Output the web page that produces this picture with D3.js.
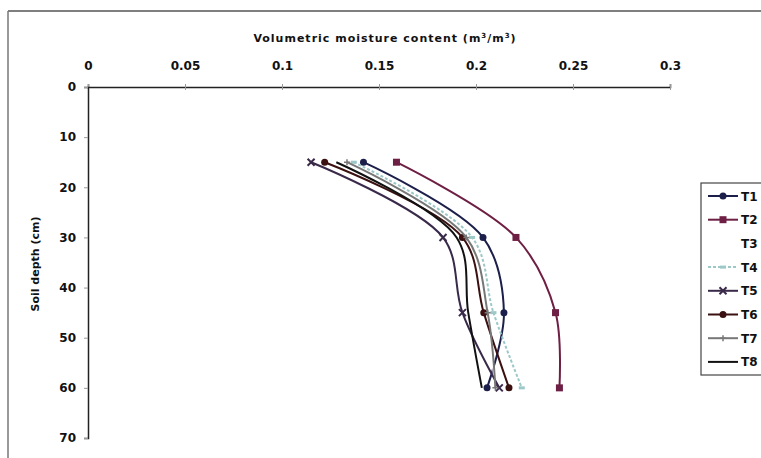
<!DOCTYPE html>
<html>
<head>
<meta charset="utf-8">
<script src="https://cdn.jsdelivr.net/npm/d3@7"></script>
<style>
  body { margin: 0; background: #fff; }
  text { font-family: "DejaVu Sans", Arial, sans-serif; font-weight: bold; fill: #111; }
</style>
</head>
<body>
<div id="chart"></div>
<script>
// depths (cm) at which moisture was measured
const depths = [15, 30, 45, 60];

const seriesNames = ['T1', 'T2', 'T3', 'T4', 'T5', 'T6', 'T7', 'T8'];

// volumetric moisture content per treatment (m3/m3), one value per depth
const t1 = [0.142, 0.2036, 0.2144, 0.2057];
const t2 = [0.159, 0.2206, 0.241, 0.243];
const t3 = [0.135, 0.197, 0.205, 0.210];
const t4 = [0.137, 0.198, 0.209, 0.2236];
const t5 = [0.115, 0.183, 0.193, 0.212];
const t6 = [0.122, 0.193, 0.204, 0.217];
const t7 = [0.1335, 0.195, 0.206, 0.210];
const t8 = [0.128, 0.190, 0.196, 0.203];

const xTicks = [0, 0.05, 0.1, 0.15, 0.2, 0.25, 0.3];
const yTicks = [0, 10, 20, 30, 40, 50, 60, 70];

const values = [t1, t2, t3, t4, t5, t6, t7, t8];
const colors = ['#1c1f4a', '#6e1f44', '#ffffff', '#9cc8c8', '#3a2a4a', '#3a1010', '#777777', '#111111'];
const markers = ['circle', 'square', 'none', 'dash', 'cross', 'circle', 'plus', 'none'];
const dashes = [null, null, null, '3,2', null, null, null, null];

const W = 761, H = 458;
const svg = d3.select('#chart').append('svg')
  .attr('width', W)
  .attr('height', H);

// scanned frame
svg.append('line').attr('x1', 8).attr('y1', 11).attr('x2', W).attr('y2', 11)
  .attr('stroke', '#555').attr('stroke-width', 1.5);
svg.append('line').attr('x1', 8).attr('y1', 11).attr('x2', 8).attr('y2', H)
  .attr('stroke', '#777').attr('stroke-width', 1.5);

const x = d3.scaleLinear().domain([0, 0.3]).range([88, 670]);
const y = d3.scaleLinear().domain([0, 70]).range([87, 438]);

// X axis on top
const xAxis = svg.append('g')
  .attr('transform', `translate(0,${y(0)})`)
  .call(d3.axisTop(x).tickValues(xTicks).tickSize(3).tickPadding(14)
    .tickFormat(d => d === 0 ? '0' : String(+d.toFixed(2))));
xAxis.select('.domain').attr('stroke', '#222').attr('stroke-width', 1.5);
xAxis.selectAll('.tick line').attr('stroke', '#999').attr('y2', 3).attr('y1', -3);
xAxis.selectAll('.tick text').style('font-size', '12px');

// Y axis
const yAxis = svg.append('g')
  .attr('transform', `translate(${x(0)},0)`)
  .call(d3.axisLeft(y).tickValues(yTicks).tickSize(4).tickPadding(8));
yAxis.select('.domain').attr('stroke', '#222').attr('stroke-width', 1.5);
yAxis.selectAll('.tick line').attr('stroke', '#999');
yAxis.selectAll('.tick text').style('font-size', '12px');

// titles
svg.append('text')
  .attr('x', 385).attr('y', 42)
  .attr('text-anchor', 'middle')
  .style('font-size', '11px')
  .style('letter-spacing', '1px')
  .html('Volumetric moisture content (m<tspan dy="-4" font-size="7px">3</tspan><tspan dy="4">/m</tspan><tspan dy="-4" font-size="7px">3</tspan><tspan dy="4">)</tspan>');

svg.append('text')
  .attr('transform', `translate(39,${264}) rotate(-90)`)
  .attr('text-anchor', 'middle')
  .style('font-size', '11px')
  .text('Soil depth (cm)');

// lines
const line = d3.line()
  .x(d => x(d[0]))
  .y(d => y(d[1]))
  .curve(d3.curveCatmullRom.alpha(0.5));

function drawMarker(g, type, cx, cy, color) {
  if (type === 'circle') {
    g.append('circle').attr('cx', cx).attr('cy', cy).attr('r', 3.5).attr('fill', color);
  } else if (type === 'square') {
    g.append('rect').attr('x', cx - 3.5).attr('y', cy - 3.5).attr('width', 7).attr('height', 7)
      .attr('fill', color);
  } else if (type === 'cross') {
    g.append('path').attr('d', `M${cx - 3.5},${cy - 3.5}L${cx + 3.5},${cy + 3.5}M${cx - 3.5},${cy + 3.5}L${cx + 3.5},${cy - 3.5}`)
      .attr('stroke', color).attr('stroke-width', 2);
  } else if (type === 'plus') {
    g.append('path').attr('d', `M${cx - 3},${cy}L${cx + 3},${cy}M${cx},${cy - 3}L${cx},${cy + 3}`)
      .attr('stroke', color).attr('stroke-width', 1.5);
  } else if (type === 'dash') {
    g.append('path').attr('d', `M${cx - 3},${cy}L${cx + 3},${cy}`)
      .attr('stroke', color).attr('stroke-width', 3);
  }
}

values.forEach((vals, i) => {
  const pts = vals.map((v, j) => [v, depths[j]]);
  const g = svg.append('g');
  g.append('path')
    .attr('d', line(pts))
    .attr('fill', 'none')
    .attr('stroke', colors[i])
    .attr('stroke-width', 2)
    .attr('stroke-dasharray', dashes[i]);
  pts.forEach(p => drawMarker(g, markers[i], x(p[0]), y(p[1]), colors[i]));
});

// legend
const lg = svg.append('g');
lg.append('rect').attr('x', 701).attr('y', 183).attr('width', 70).attr('height', 192)
  .attr('fill', '#fff').attr('stroke', '#444').attr('stroke-width', 1.2);
seriesNames.forEach((name, i) => {
  const ly = 196 + i * 23.7;
  lg.append('line').attr('x1', 708).attr('x2', 738).attr('y1', ly).attr('y2', ly)
    .attr('stroke', colors[i]).attr('stroke-width', 2).attr('stroke-dasharray', dashes[i]);
  drawMarker(lg, markers[i], 723, ly, colors[i]);
  lg.append('text').attr('x', 741).attr('y', ly + 4.5)
    .style('font-size', '12px').text(name);
});
</script>
</body>
</html>
